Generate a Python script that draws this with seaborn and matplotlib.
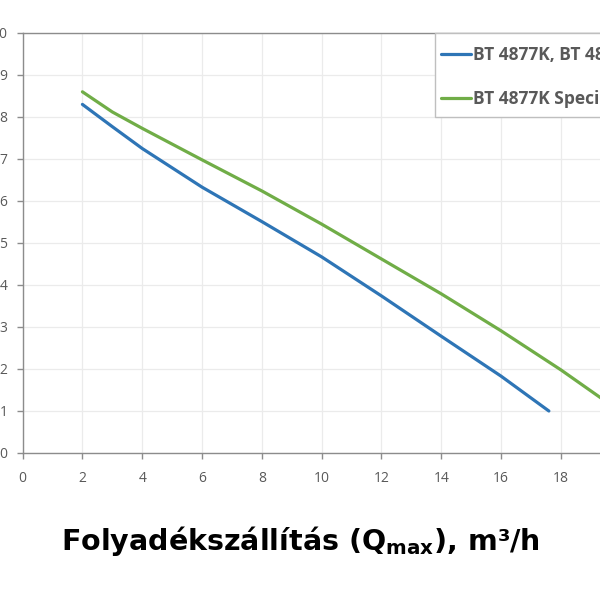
import pandas as pd
import matplotlib
matplotlib.use("Agg")
import matplotlib.pyplot as plt
from matplotlib.patches import Rectangle
import seaborn as sns

# curve data
blue_label = 'BT 4877K, BT 4877'
green_label = 'BT 4877K Special'
blue_q = [2, 3, 4, 6, 8, 10, 12, 14, 16, 17.6]
blue_h = [8.3, 7.77, 7.25, 6.33, 5.51, 4.67, 3.74, 2.78, 1.83, 1.0]
green_q = [2, 3, 4, 6, 8, 10, 12, 14, 16, 18, 19.6]
green_h = [8.6, 8.12, 7.73, 6.98, 6.24, 5.45, 4.62, 3.79, 2.91, 1.98, 1.18]
x_ticks = list(range(0, 21, 2))
y_ticks = list(range(0, 11))

sns.set_style('white')
plt.rcParams['font.family'] = ['Open Sans', 'DejaVu Sans']
plt.rcParams['mathtext.fontset'] = 'custom'
plt.rcParams['mathtext.rm'] = 'DejaVu Sans:bold'
plt.rcParams['mathtext.default'] = 'rm'

df = pd.concat([
    pd.DataFrame({'Q': blue_q, 'H': blue_h, 'series': blue_label}),
    pd.DataFrame({'Q': green_q, 'H': green_h, 'series': green_label}),
], ignore_index=True)

fig = plt.figure(figsize=(6, 6), dpi=100)
ax = fig.add_axes([0.0377, 0.245, 0.9967, 0.70])
sns.lineplot(data=df, x='Q', y='H', hue='series', ax=ax, sort=False,
             palette={blue_label: '#2E75B6', green_label: '#70AD47'},
             linewidth=2.3, legend=False)

ax.set_xlim(0, 20)
ax.set_ylim(0, 10)
ax.set_xticks(x_ticks)
ax.set_yticks(y_ticks)
ax.grid(True, color='#EBEBEB', linewidth=0.9)
for s in ['left', 'bottom', 'top']:
    ax.spines[s].set_color('#8C8C8C')
    ax.spines[s].set_linewidth(1.0)
ax.spines['right'].set_visible(False)
ax.tick_params(axis='both', colors='#8C8C8C', labelcolor='#595959', labelsize=10,
               length=4, width=1.0, direction='out')
ax.tick_params(axis='x', pad=9, bottom=True)
ax.tick_params(axis='y', pad=7, left=True)
ax.set_xlabel('')
ax.set_ylabel('')

# legend box drawn by hand so the padding matches the reference
fig.patches.append(Rectangle((434.7 / 600, 1 - 116.7 / 600), 0.4, (116.7 - 33) / 600,
                             transform=fig.transFigure, facecolor='white',
                             edgecolor='#BFBFBF', linewidth=1.0, zorder=5))
handles = [plt.Line2D([], [], color='#2E75B6', linewidth=2.3),
           plt.Line2D([], [], color='#70AD47', linewidth=2.3)]
leg = fig.legend(handles, [blue_label, green_label], loc='upper left',
                 bbox_to_anchor=(441 / 600, 1 - 46 / 600), frameon=False,
                 prop={'family': 'Open Sans', 'weight': 'bold', 'size': 12.5},
                 labelcolor='#595959', handlelength=1.75, handletextpad=0.12,
                 labelspacing=1.5, borderpad=0, borderaxespad=0)
leg.set_zorder(6)

fig.text(0.5, 0.098, 'Folyadékszállítás (Q$_{max}$), m³/h', ha='center', va='center',
         fontsize=20.5, family='DejaVu Sans', weight='bold', color='black')

fig.savefig('out.png', dpi=100)
